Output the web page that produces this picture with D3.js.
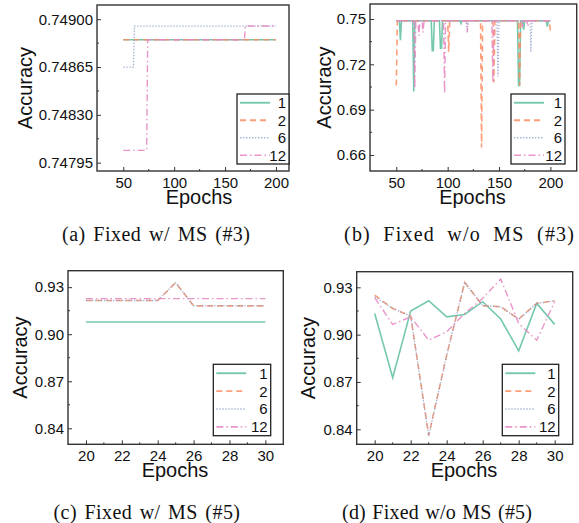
<!DOCTYPE html>
<html><head><meta charset="utf-8">
<script src="https://cdn.jsdelivr.net/npm/d3@7"></script>
<style>body{margin:0;background:#fff}svg{display:block}</style>
</head><body>
<svg id="chart" width="579" height="523"></svg>
<script>
// ---------- data ----------
const seriesNames = ["1", "2", "6", "12"];
const seriesColors = ["#66c2a5", "#fc8d62", "#8da0cb", "#e78ac3"];

// (a) Fixed w/ MS (#3)  [epoch, accuracy]
const a1 = [[50, 0.74885], [200, 0.74885]];
const a2 = [[50, 0.74885], [200, 0.74885]];
const a6 = [[50, 0.74865], [60, 0.74865], [61, 0.74895], [200, 0.74895]];
const a12 = [[50, 0.74804], [73, 0.74804], [74, 0.74885], [169, 0.74885], [170, 0.74895], [200, 0.74895]];
const aYTicks = [0.74795, 0.74830, 0.74865, 0.74900];
const aXTicks = [50, 100, 150, 200];

// (b) Fixed w/o MS (#3)
const b1 = [[50, 0.7488], [53, 0.7488], [54, 0.736], [55, 0.7488], [66, 0.7488], [67, 0.702], [68, 0.7488],
  [84, 0.7488], [85, 0.729], [86, 0.729], [87, 0.7488], [92, 0.7488], [93, 0.7306], [94, 0.7306], [95, 0.7488],
  [112, 0.7488], [113, 0.747], [114, 0.7488], [168, 0.7488], [169, 0.706], [170, 0.706], [171, 0.7488],
  [173, 0.7488], [174, 0.743], [175, 0.7488], [196, 0.7488], [197, 0.745], [198, 0.7488], [200, 0.7488]];
const b2 = [[50, 0.706], [51, 0.7488], [100, 0.7488], [101, 0.7284], [102, 0.7488], [132, 0.7488], [133, 0.665],
  [134, 0.7488], [144, 0.7488], [145, 0.708], [146, 0.7488], [169, 0.7488], [170, 0.706], [171, 0.7488],
  [199, 0.7488], [200, 0.742]];
const b6 = [[50, 0.7488], [118, 0.7488], [119, 0.743], [120, 0.7488], [148, 0.7488], [149, 0.712], [150, 0.7488],
  [180, 0.7488], [181, 0.728], [182, 0.7488], [200, 0.7488]];
const b12 = [[50, 0.7488], [67, 0.7488], [68, 0.704], [69, 0.7488], [71, 0.7488], [72, 0.739], [73, 0.7488],
  [75, 0.7488], [76, 0.741], [77, 0.7488], [96, 0.7488], [97, 0.7005], [98, 0.7488], [118, 0.7488], [119, 0.741],
  [120, 0.7488], [143, 0.7488], [144, 0.708], [145, 0.7488], [172, 0.7488], [173, 0.744], [174, 0.7488],
  [177, 0.7488], [178, 0.745], [179, 0.7488], [200, 0.7488]];
const bYTicks = [0.66, 0.69, 0.72, 0.75];
const bXTicks = [50, 100, 150, 200];

// (c) Fixed w/ MS (#5)
const epochs5 = [20, 21, 22, 23, 24, 25, 26, 27, 28, 29, 30];
const c1 = [0.9078, 0.9078, 0.9078, 0.9078, 0.9078, 0.9078, 0.9078, 0.9078, 0.9078, 0.9078, 0.9078];
const c2 = [0.9215, 0.9215, 0.9215, 0.9215, 0.9215, 0.9329, 0.9181, 0.9181, 0.9181, 0.9181, 0.9181];
const c6 = [0.9215, 0.9215, 0.9215, 0.9215, 0.9215, 0.9329, 0.9181, 0.9181, 0.9181, 0.9181, 0.9181];
const c12 = [0.9227, 0.9227, 0.9227, 0.9227, 0.9227, 0.9227, 0.9227, 0.9227, 0.9227, 0.9227, 0.9227];

// (d) Fixed w/o MS (#5)
const d1 = [0.9134, 0.8727, 0.9150, 0.9215, 0.9113, 0.9128, 0.9209, 0.9099, 0.8897, 0.9198, 0.9065];
const d2 = [0.9251, 0.9166, 0.9118, 0.8361, 0.8870, 0.9332, 0.9183, 0.9177, 0.9099, 0.9198, 0.9215];
const d6 = [0.9240, 0.9166, 0.9118, 0.8358, 0.8870, 0.9332, 0.9183, 0.9177, 0.9097, 0.9198, 0.9215];
const d12 = [0.9234, 0.9065, 0.9113, 0.8965, 0.9018, 0.9135, 0.9230, 0.9353, 0.9071, 0.8965, 0.9209];
const cdYTicks = [0.84, 0.87, 0.90, 0.93];
const cdXTicks = [20, 22, 24, 26, 28, 30];

const captions = ["(a) Fixed w/ MS (#3)", "(b) Fixed w/o MS (#3)", "(c) Fixed w/ MS (#5)", "(d) Fixed w/o MS (#5)"];

// ---------- styles ----------
const dashes = [null, "6,4", "1.4,1.6", "7,3,1.5,3"];
const widths = [1.6, 1.6, 1.3, 1.4];
const opac = [0.9, 0.85, 0.8, 0.9];

const svg = d3.select("#chart");
const SANS = "'Liberation Sans', Arial, sans-serif";
const SERIF = "'Liberation Serif', 'Times New Roman', serif";

function zipE(vals) { return vals.map((v, i) => [epochs5[i], v]); }

const panels = [
  { L: 97, T: 5, R: 289, B: 171, xd: [24.2, 212.8], yd: [0.747889, 0.749104],
    series: [a1, a2, a6, a12], xt: aXTicks, xminor: [75, 125, 175], yt: aYTicks, fmt: ".5f",
    yminor: [0.748125, 0.748475, 0.748825], leg: { x0: 237, y0: 94, x1: 289, y1: 164 },
    ylab: 25, ex: 199, cap: [62, 250, 241] },
  { L: 370, T: 4, R: 576.7, B: 171, xd: [24.4, 225.6], yd: [0.6494, 0.7599],
    series: [b1, b2, b6, b12], xt: bXTicks, xminor: [75, 125, 175], yt: bYTicks, fmt: ".2f",
    yminor: [0.675, 0.705, 0.735], leg: { x0: 511, y0: 94, x1: 565, y1: 164 },
    ylab: 324, ex: 472.5, cap: [344, 574, 241] },
  { L: 68, T: 270.7, R: 283.3, B: 444.3, xd: [19, 31], yd: [0.8298, 0.9405],
    series: [zipE(c1), zipE(c2), zipE(c6), zipE(c12)], xt: cdXTicks, xminor: [21, 23, 25, 27, 29],
    yt: cdYTicks, fmt: ".2f", yminor: [0.855, 0.885, 0.915], leg: { x0: 213.3, y0: 364.3, x1: 270.7, y1: 435.7 },
    ylab: 20, ex: 175, cap: [53.5, 240, 519] },
  { L: 356.7, T: 271.7, R: 572.7, B: 444.3, xd: [19, 31], yd: [0.8305, 0.9399],
    series: [zipE(d1), zipE(d2), zipE(d6), zipE(d12)], xt: cdXTicks, xminor: [21, 23, 25, 27, 29],
    yt: cdYTicks, fmt: ".2f", yminor: [0.855, 0.885, 0.915], leg: { x0: 502.3, y0: 364.3, x1: 558.7, y1: 435.7 },
    ylab: 308, ex: 464, cap: [342, 532, 519] }
];

panels.forEach((p, pi) => {
  const g = svg.append("g");
  const x = d3.scaleLinear().domain(p.xd).range([p.L, p.R]);
  const y = d3.scaleLinear().domain(p.yd).range([p.B, p.T]);
  const clipId = "clip" + pi;
  svg.append("clipPath").attr("id", clipId).append("rect")
    .attr("x", p.L).attr("y", p.T).attr("width", p.R - p.L).attr("height", p.B - p.T);

  // lines
  const line = d3.line().x(d => x(d[0])).y(d => y(d[1]));
  const lg = g.append("g").attr("clip-path", `url(#${clipId})`);
  p.series.forEach((s, si) => {
    lg.append("path").datum(s).attr("d", line)
      .attr("fill", "none").attr("stroke", seriesColors[si])
      .attr("stroke-width", widths[si]).attr("stroke-opacity", opac[si])
      .attr("stroke-dasharray", dashes[si]).attr("stroke-linejoin", "miter");
  });

  // axes (ticks inward)
  const xAxis = d3.axisBottom(x).tickValues(p.xt).tickSize(-4).tickPadding(6).tickSizeOuter(0);
  const yAxis = d3.axisLeft(y).tickValues(p.yt).tickFormat(d3.format(p.fmt)).tickSize(-4).tickPadding(4).tickSizeOuter(0);
  const gx = g.append("g").attr("transform", `translate(0,${p.B})`).call(xAxis);
  const gy = g.append("g").attr("transform", `translate(${p.L},0)`).call(yAxis);
  [gx, gy].forEach(a => {
    a.select(".domain").remove();
    a.selectAll(".tick line").attr("stroke", "#333").attr("stroke-width", 1);
    a.selectAll(".tick text").attr("font-family", SANS).attr("font-size", 15).attr("fill", "#111");
  });
  // minor ticks
  g.append("g").selectAll("line").data(p.xminor).join("line")
    .attr("x1", d => x(d)).attr("x2", d => x(d)).attr("y1", p.B).attr("y2", p.B - 2)
    .attr("stroke", "#333");
  g.append("g").selectAll("line").data(p.yminor).join("line")
    .attr("y1", d => y(d)).attr("y2", d => y(d)).attr("x1", p.L).attr("x2", p.L + 2)
    .attr("stroke", "#333");

  // frame
  g.append("rect").attr("x", p.L).attr("y", p.T).attr("width", p.R - p.L).attr("height", p.B - p.T)
    .attr("fill", "none").attr("stroke", "#333").attr("stroke-width", 1.4);

  // axis titles
  g.append("text").attr("x", p.ex).attr("y", p.B + 33)
    .attr("text-anchor", "middle").attr("font-family", SANS).attr("font-size", 20).attr("fill", "#111")
    .text("Epochs");
  g.append("text").attr("transform", `translate(${p.ylab + 7},${(p.T + p.B) / 2}) rotate(-90)`)
    .attr("text-anchor", "middle").attr("font-family", SANS).attr("font-size", 20).attr("fill", "#111")
    .text("Accuracy");

  // legend
  const L = p.leg;
  g.append("rect").attr("x", L.x0).attr("y", L.y0).attr("width", L.x1 - L.x0).attr("height", L.y1 - L.y0)
    .attr("fill", "#fff").attr("stroke", "#222").attr("stroke-width", 1.3);
  const rowH = (L.y1 - L.y0) / 4;
  seriesNames.forEach((nm, si) => {
    const cy = L.y0 + rowH * (si + 0.5);
    g.append("line").attr("x1", L.x0 + 3).attr("x2", L.x0 + 33).attr("y1", cy).attr("y2", cy)
      .attr("stroke", seriesColors[si]).attr("stroke-width", widths[si] + 0.3).attr("stroke-opacity", opac[si])
      .attr("stroke-dasharray", dashes[si]);
    g.append("text").attr("x", L.x1 - 3).attr("y", cy + 5.5).attr("text-anchor", "end")
      .attr("font-family", SANS).attr("font-size", 15).attr("fill", "#111").text(nm);
  });

  // caption: spread the extra width half over word gaps, half over letters
  const cap = g.append("text").attr("x", p.cap[0]).attr("y", p.cap[2])
    .attr("font-family", SERIF).attr("font-size", 20).attr("fill", "#111").text(captions[pi]);
  const natural = cap.node().getComputedTextLength();
  const txt = captions[pi];
  const gaps = txt.split(" ").length - 1;
  const extra = Math.max(0, p.cap[1] - p.cap[0] - natural);
  const ls = extra * 0.5 / (txt.length - 1);
  const ws = extra * 0.5 / gaps;
  cap.attr("letter-spacing", ls).attr("word-spacing", ws);
});
</script>
</body></html>
